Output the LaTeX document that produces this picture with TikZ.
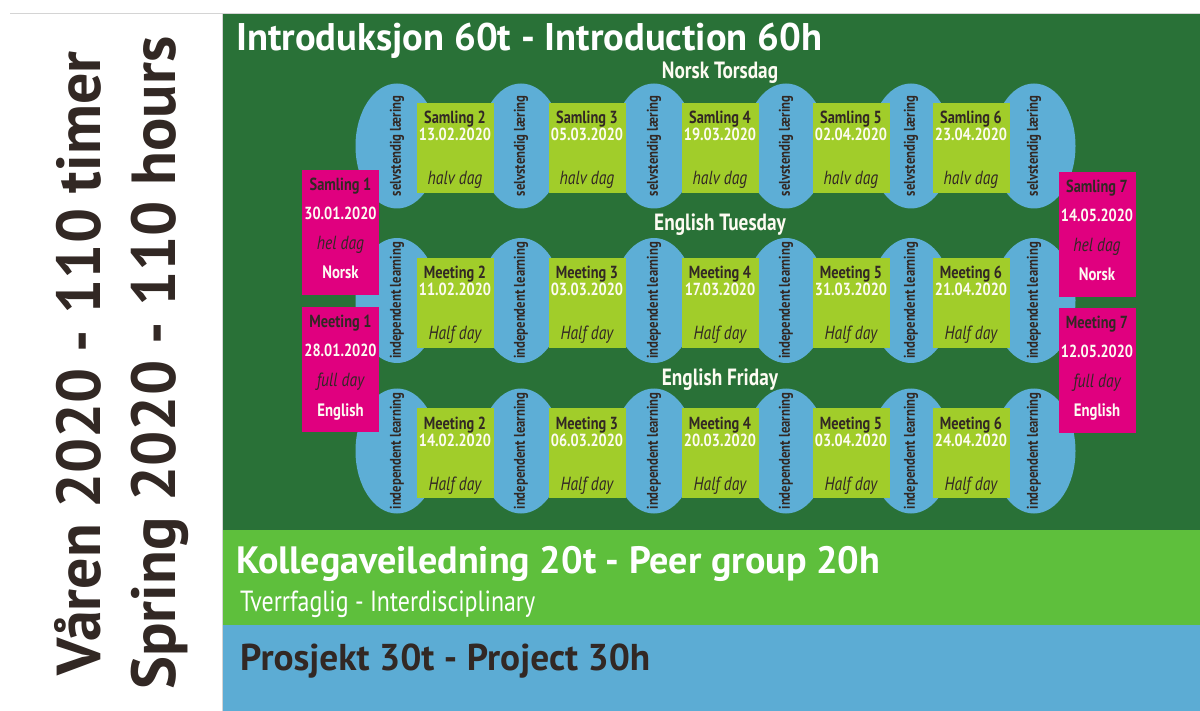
\documentclass[tikz,border=0pt]{standalone}
\usepackage{fontspec}
\setmainfont{PT Sans}
\newfontfamily\condf[FakeStretch=0.82]{PT Sans}
\usetikzlibrary{shapes.geometric}
\definecolor{dkgreen}{RGB}{41,113,55}
\definecolor{lgreen}{RGB}{94,191,60}
\definecolor{bandblue}{RGB}{92,172,212}
\definecolor{eblue}{RGB}{93,174,214}
\definecolor{ygreen}{RGB}{161,205,42}
\definecolor{mag}{RGB}{224,0,127}
\definecolor{dtext}{RGB}{50,40,36}
\definecolor{wtext}{RGB}{253,251,242}
\definecolor{linegrey}{RGB}{212,212,212}
\tikzset{
  ell/.style={ellipse, fill=eblue, minimum width=83pt, minimum height=125pt, inner sep=0pt},
  elltxt/.style={rotate=90, inner sep=0pt, text=dtext, font=\condf\bfseries\fontsize{15.5}{16}\selectfont},
  gbox/.style={rectangle, fill=ygreen, minimum width=77pt, minimum height=90pt, inner sep=0pt, anchor=north},
  mbox/.style={rectangle, fill=mag, minimum width=77pt, minimum height=125pt, inner sep=0pt, anchor=north},
  ttl/.style={anchor=base, inner sep=0pt, text=dtext, font=\condf\bfseries\fontsize{17.5}{18}\selectfont},
  dat/.style={anchor=base, inner sep=0pt, text=wtext, font=\condf\bfseries\fontsize{17.5}{18}\selectfont},
  ital/.style={anchor=base, inner sep=0pt, text=dtext, font=\condf\itshape\fontsize{19}{18}\selectfont},
  lang/.style={anchor=base, inner sep=0pt, text=wtext, font=\condf\bfseries\fontsize{18}{18}\selectfont},
  rowlbl/.style={anchor=base, inner sep=0pt, text=wtext, font=\condf\bfseries\fontsize{23.5}{24}\selectfont},
  head/.style={anchor=base west, inner sep=0pt},
}
\begin{document}
\begin{tikzpicture}[x=1pt,y=-1pt]
\useasboundingbox (0,0) rectangle (1200,711);
\fill[white] (0,0) rectangle (1200,711);
\draw[linegrey, line width=1pt] (10,14) -- (1200,14);
\fill[dkgreen] (223,14.5) rectangle (1200,530);
\fill[lgreen] (223,530) rectangle (1200,625);
\fill[bandblue] (223,625) rectangle (1200,711);
\draw[linegrey, line width=0.8pt] (222.6,14.5) -- (222.6,711);

% vertical side titles
\node[head, rotate=90, text=dtext] (vaaren) at (100,676) {\resizebox{624pt}{!}{\bfseries Våren 2020 - 110 timer}};
\node[head, rotate=90, text=dtext] (spring) at (175,690) {\resizebox{653pt}{!}{\bfseries Spring 2020 - 110 hours}};

% headlines
\node[head, text=white] (intro) at (236,51) {\resizebox{586pt}{!}{\bfseries Introduksjon 60t - Introduction 60h}};
\node[head, text=white] (peer) at (236,573) {\resizebox{644pt}{!}{\bfseries Kollegaveiledning 20t - Peer group 20h}};
\node[head, text=white] (tverr) at (240,611) {\resizebox{295pt}{!}{\condf Tverrfaglig - Interdisciplinary}};
\node[head, text=dtext] (proj) at (240,670) {\resizebox{410pt}{!}{\bfseries Prosjekt 30t - Project 30h}};

% rows
\foreach \row/\top/\ecy/\nm/\et/\hd/\dates in {
  1/103/146/Samling/{selvstendig læring}/{halv dag}/{13.02.2020,05.03.2020,19.03.2020,02.04.2020,23.04.2020},
  2/258/300.5/Meeting/{independent learning}/{Half day}/{11.02.2020,03.03.2020,17.03.2020,31.03.2020,21.04.2020},
  3/408/451/Meeting/{independent learning}/{Half day}/{14.02.2020,06.03.2020,20.03.2020,03.04.2020,24.04.2020}}{
  \foreach \ex [count=\j] in {397,521,654,786,911,1034}{
    \node[ell] (e\row-\j) at (\ex,\ecy) {};
    \node[elltxt] (et\row-\j) at (e\row-\j.center) {\et};
  }
  \foreach \bx [count=\i from 2] in {455,587,720,851,971}{
    \node[gbox] (b\row-\i) at (\bx,\top) {};
  }
  \foreach \d [count=\i from 2] in \dates{
    \node[ttl] (bt\row-\i) at ([yshift=-21pt]b\row-\i.north) {\nm\ \i};
    \node[dat] (bd\row-\i) at ([yshift=-38pt]b\row-\i.north) {\d};
    \node[ital] (bh\row-\i) at ([yshift=-82pt]b\row-\i.north) {\hd};
  }
}

% row labels
\node[rowlbl] (lbl1) at (720,79) {Norsk Torsdag};
\node[rowlbl] (lbl2) at (720,231) {English Tuesday};
\node[rowlbl] (lbl3) at (720,385) {English Friday};

% magenta full-day boxes
\node[mbox] (s1) at (340.5,170) {};
\node[ttl] (s1a) at ([yshift=-21pt]s1.north) {Samling 1};
\node[dat] (s1b) at ([yshift=-50pt]s1.north) {30.01.2020};
\node[ital] (s1c) at ([yshift=-80pt]s1.north) {hel dag};
\node[lang] (s1d) at ([yshift=-109pt]s1.north) {Norsk};

\node[mbox] (m1) at (340.5,307) {};
\node[ttl] (m1a) at ([yshift=-21pt]m1.north) {Meeting 1};
\node[dat] (m1b) at ([yshift=-50pt]m1.north) {28.01.2020};
\node[ital] (m1c) at ([yshift=-80pt]m1.north) {full day};
\node[lang] (m1d) at ([yshift=-109pt]m1.north) {English};

\node[mbox] (s7) at (1097,172) {};
\node[ttl] (s7a) at ([yshift=-21pt]s7.north) {Samling 7};
\node[dat] (s7b) at ([yshift=-50pt]s7.north) {14.05.2020};
\node[ital] (s7c) at ([yshift=-80pt]s7.north) {hel dag};
\node[lang] (s7d) at ([yshift=-109pt]s7.north) {Norsk};

\node[mbox] (m7) at (1097,308) {};
\node[ttl] (m7a) at ([yshift=-21pt]m7.north) {Meeting 7};
\node[dat] (m7b) at ([yshift=-50pt]m7.north) {12.05.2020};
\node[ital] (m7c) at ([yshift=-80pt]m7.north) {full day};
\node[lang] (m7d) at ([yshift=-109pt]m7.north) {English};
\end{tikzpicture}
\end{document}
